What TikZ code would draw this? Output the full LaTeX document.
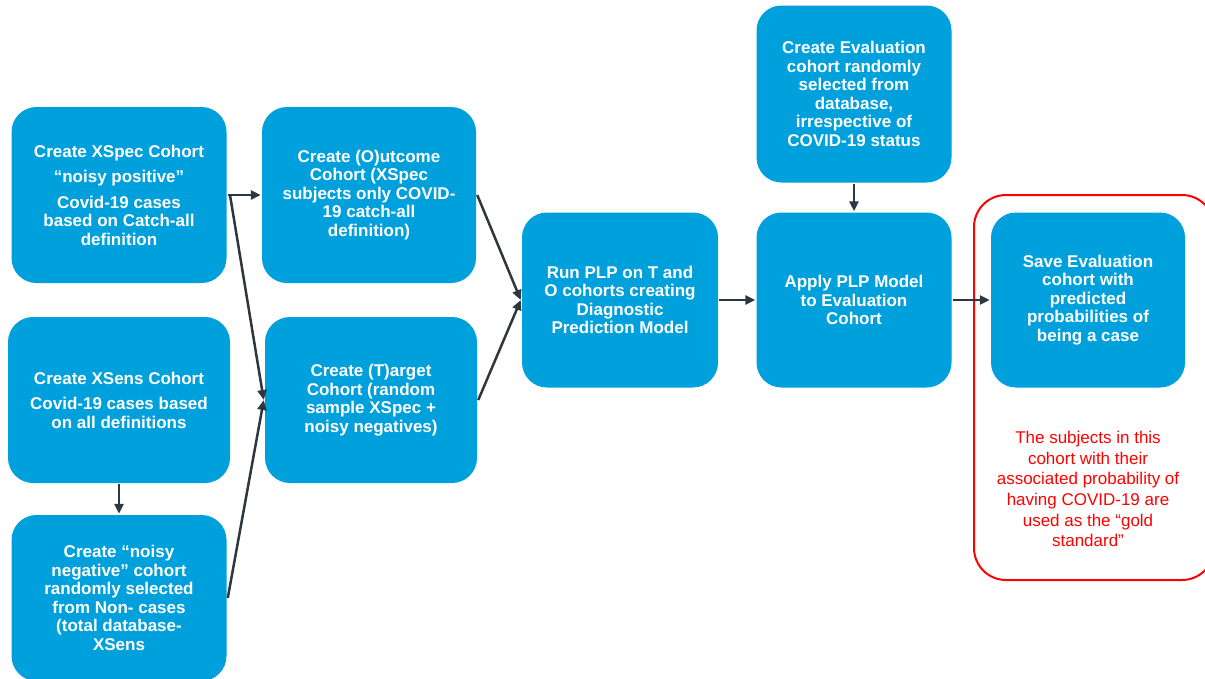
\documentclass[tikz,border=0pt]{standalone}
\usepackage{fontspec}
\setmainfont{Liberation Sans}
\usetikzlibrary{positioning, arrows.meta}
\definecolor{boxblue}{RGB}{0,160,220}
\definecolor{arrowgrey}{RGB}{45,55,64}
\definecolor{goldred}{RGB}{255,0,0}

\begin{document}
\begin{tikzpicture}[x=1pt,y=-1pt,>={Triangle[length=10pt,width=9pt]},on grid,line width=2.5pt,
    cohort/.style={fill=boxblue,rounded corners=25pt,text=white,align=center,inner sep=0pt,
      font=\fontsize{17}{18.5}\selectfont\bfseries,minimum width=215pt,minimum height=176pt},
    goldnote/.style={text=goldred,align=center,inner sep=0pt,font=\fontsize{17}{20.7}\selectfont},
    flow/.style={->,color=arrowgrey}]
    \useasboundingbox (0,0) rectangle (1205,678);
    \node[cohort] (xspec) at (119,195) {Create XSpec Cohort\\[7pt]“noisy positive”\\[7pt]Covid-19 cases\\based on Catch-all\\definition};
    \node[cohort,minimum width=222pt,minimum height=166pt] (xsens) [below=205pt of xspec] {Create XSens Cohort\\[7pt]Covid-19 cases based\\on all definitions};
    \node[cohort,minimum height=166pt] (noisyneg) [below=198pt of xsens] {Create “noisy\\negative” cohort\\randomly selected\\from Non- cases\\(total database-\\XSens};
    \node[cohort,minimum width=214pt] (outcome) [right=250pt of xspec] {Create (O)utcome\\Cohort (XSpec\\subjects only COVID-\\19 catch-all\\definition)};
    \node[cohort,minimum width=212pt,minimum height=166pt] (target) [right=252pt of xsens] {Create (T)arget\\Cohort (random\\sample XSpec +\\noisy negatives)};
    \node[cohort,minimum width=196pt,minimum height=175pt] (plp) at (620,300) {Run PLP on T and\\O cohorts creating\\Diagnostic\\Prediction Model};
    \node[cohort,minimum width=195pt,minimum height=175pt] (apply) [right=234pt of plp] {Apply PLP Model\\to Evaluation\\Cohort};
    \node[cohort,minimum width=195pt,minimum height=177pt] (evalc) [above=206pt of apply] {Create Evaluation\\cohort randomly\\selected from\\database,\\irrespective of\\COVID-19 status};
    \node[cohort,minimum width=194pt,minimum height=175pt] (save) [right=234pt of apply] {Save Evaluation\\cohort with\\predicted\\probabilities of\\being a case};

    % gold standard frame
    \draw[goldred,line width=2pt,rounded corners=32pt] (974,195) rectangle (1214,580);
    \node[goldnote] (goldtxt) at (1088,489) {The subjects in this\\cohort with their\\associated probability of\\having COVID-19 are\\used as the “gold\\standard”};

    \coordinate (split) at (230,195);
    \draw[flow] (xspec.east) -- (split) -- (outcome.west);
    \path[flow]
      (split) edge (target.west)
      (noisyneg.east) edge (target.west)
      (xsens) edge (noisyneg)
      (outcome.east) edge (plp.west)
      (target.east) edge (plp.west)
      (plp) edge (apply)
      (evalc) edge (apply)
      (apply) edge (save);
\end{tikzpicture}
\end{document}
